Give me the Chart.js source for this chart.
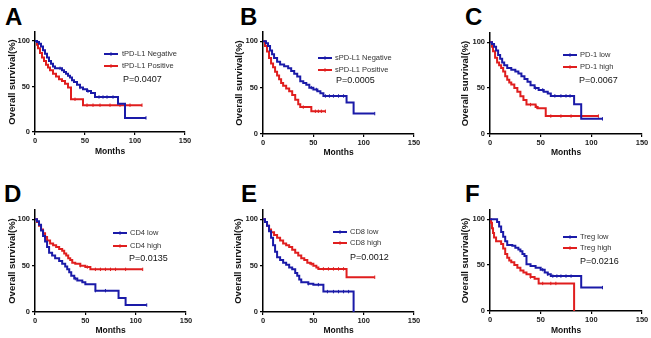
<!DOCTYPE html>
<html><head><meta charset="utf-8">
<script src="https://cdn.jsdelivr.net/npm/chart.js@4/dist/chart.umd.min.js"></script>
<style>
html,body{margin:0;padding:0;background:#fff;}
#wrap{position:relative;width:651px;height:338px;overflow:hidden;background:#fff;}
#wrap canvas{position:absolute;}
.lbl{position:absolute;font:bold 24px "Liberation Sans",Arial,sans-serif;line-height:24px;color:#000;}
</style></head><body><div id="wrap"></div>
<script>
// ---- tick labels ----
const xTicks = [0, 50, 100, 150];
const yTicks = [0, 50, 100];
const xTitle = 'Months';
const yTitle = 'Overall survival(%)';
const panelLetters = ['A', 'B', 'C', 'D', 'E', 'F'];
const blueLabels = ['tPD-L1 Negative', 'sPD-L1 Negative', 'PD-1 low', 'CD4 low', 'CD8 low', 'Treg low'];
const redLabels  = ['tPD-L1 Positive', 'sPD-L1 Positive', 'PD-1 high', 'CD4 high', 'CD8 high', 'Treg high'];
const pValues = ['P=0.0407', 'P=0.0005', 'P=0.0067', 'P=0.0135', 'P=0.0012', 'P=0.0216'];

// ---- Kaplan-Meier steps [month, survival %] ----
const tpdNeg = [[0,100],[2,99],[4,97],[6,94],[8,90],[10,86],[12,82],[14,78],[16,75],[18,72],[20,70],[27,68],[29,66],[31,64],[33,62],[35,60],[37,57],[39,55],[42,52],[45,49],[48,47],[52,45],[56,43],[60,38.5],[83,31],[90,15.5],[111,15.5]];
const tpdPos = [[0,100],[2,96],[3,92],[5,87],[7,82],[9,78],[11,74],[13,71],[15,68],[18,64],[21,61],[24,58],[27,56],[30,53],[33,49],[36,36],[48,29.5],[107,29.5]];
const spdNeg = [[0,100],[3,98],[5,95],[7,90],[9,86],[11,82],[14,78],[17,75],[21,73],[25,71],[28,68],[31,65],[34,62],[37,57],[40,55],[43,53],[46,50],[50,48],[54,46],[57,44],[60,41],[83,34],[90,22],[111,22]];
const spdPos = [[0,100],[2,95],[4,89],[6,82],[8,76],[10,72],[12,67],[14,63],[16,59],[18,55],[20,52],[23,49],[26,46],[29,42],[32,37],[35,32],[37,29],[48,24.5],[62,24.5]];
const pd1Low  = [[0,100],[2,98],[4,95],[6,91],[8,86],[10,82],[12,78],[14,75],[17,72],[21,70],[25,68],[28,66],[31,63],[34,60],[37,57],[40,53],[44,50],[48,48],[53,46],[57,44],[60,41.5],[83,32.5],[90,16.5],[111,16.5]];
const pd1High = [[0,100],[2,95],[3,90],[5,83],[7,78],[9,75],[11,72],[13,68],[15,63],[17,59],[19,56],[21,54],[24,50],[27,46],[30,41],[33,37],[36,32],[45,29.5],[47,28],[55,19.5],[107,19.5]];
const cd4Low  = [[0,100],[2,98],[4,94],[6,88],[8,82],[10,76],[12,70],[14,64],[17,61],[20,58],[24,55],[27,52],[30,49],[32,46],[34,43],[36,39],[39,36],[42,34],[47,32],[50,30],[60,23],[83,15],[90,7.5],[111,7.5]];
const cd4High = [[0,100],[2,97],[4,93],[6,89],[8,85],[10,81],[12,77],[15,74],[18,72],[21,70],[24,68],[27,66],[29,63],[31,61],[33,58],[35,56],[37,53],[40,52],[45,50],[50,48.5],[55,46],[107,46]];
const cd8Low  = [[0,100],[2,97],[4,93],[6,87],[8,80],[10,72],[12,65],[14,59],[17,56],[20,53],[23,51],[26,48],[29,46],[32,42],[34,39],[36,35],[38,32],[45,30.5],[50,29.5],[60,22],[90,0]];
const cd8High = [[0,100],[2,97],[4,93],[6,89],[8,86],[11,83],[14,80],[17,77],[20,74],[23,72],[26,70],[29,67],[32,64],[35,61],[38,58],[41,56],[44,53],[47,52],[50,50],[53,48],[55,46.5],[83,37.5],[111,37.5]];
const tregLow  = [[0,100],[6,100],[7,97],[9,92],[11,86],[13,81],[15,76],[17,72],[22,71],[25,69],[28,67],[30,65],[32,62],[34,60],[36,51],[40,49],[45,47],[50,45],[54,42],[57,40],[60,38],[90,25.5],[111,25.5]];
const tregHigh = [[0,100],[1,96],[2,90],[3,85],[4,80],[6,76],[11,73],[13,68],[15,62],[17,58],[19,55],[21,53],[24,50],[27,47],[30,44],[33,42],[36,40],[40,37],[44,35],[48,30],[83,0]];

// ---- censored times (months) ----
const tpdNegCens = [25,45,53,64,68,72,78,111];
const tpdPosCens = [40,52,58,65,75,85,95,107];
const spdNegCens = [48,53,62,66,70,75,80,111];
const spdPosCens = [40,52,55,58,62];
const pd1LowCens = [45,52,64,70,75,79,111];
const pd1HighCens = [40,46,60,70,80,90,107];
const cd4LowCens = [40,60,70,111];
const cd4HighCens = [45,52,60,65,70,75,80,90,107];
const cd8LowCens = [45,55,64,70,75,80,85];
const cd8HighCens = [48,60,65,70,75,80,111];
const tregLowCens = [52,57,62,66,70,75,80,111];
const tregHighCens = [40,52,60,65];

const BLUE = '#1a1aa8';
const RED = '#e01e1e';
const FAM = '"Liberation Sans", Arial, Helvetica, sans-serif';

const seriesBlue = [tpdNeg, spdNeg, pd1Low, cd4Low, cd8Low, tregLow];
const seriesRed = [tpdPos, spdPos, pd1High, cd4High, cd8High, tregHigh];
const censBlue = [tpdNegCens, spdNegCens, pd1LowCens, cd4LowCens, cd8LowCens, tregLowCens];
const censRed = [tpdPosCens, spdPosCens, pd1HighCens, cd4HighCens, cd8HighCens, tregHighCens];

// ---- layout (pixels) ----
const layouts = [
  {cell:[0,0,215,169],   area:{l:35,r:185,t:32,b:132},  yT:12,  mY:152, let:[5,5],    lx:104, tx:122, y1:54,  y2:66,  px:123, py:80},
  {cell:[215,0,215,169], area:{l:263,r:414,t:32,b:134}, yT:239, mY:153, let:[240,5],  lx:318, tx:335, y1:58,  y2:70,  px:336, py:81},
  {cell:[430,0,221,169], area:{l:490,r:642,t:33,b:134}, yT:465, mY:153, let:[465,5],  lx:563, tx:580, y1:55,  y2:67,  px:579, py:81},
  {cell:[0,169,215,169], area:{l:35,r:186,t:210,b:312}, yT:12,  mY:331, let:[4,182],  lx:113, tx:130, y1:233, y2:246, px:129, py:259},
  {cell:[215,169,215,169],area:{l:263,r:414,t:210,b:312},yT:238,mY:331, let:[241,182],lx:333, tx:350, y1:232, y2:243, px:350, py:258},
  {cell:[430,169,221,169],area:{l:490,r:642,t:210,b:311},yT:465,mY:331, let:[465,182],lx:563, tx:580, y1:237, y2:248, px:580, py:262}
];

function survAt(steps, t) {
  let s = steps[0][1];
  for (const [tt, v] of steps) { if (tt <= t) s = v; }
  return s;
}

const wrap = document.getElementById('wrap');

layouts.forEach((L, i) => {
  const [cx, cy, cw, ch] = L.cell;
  const yFont = 9.5, mFont = 8.5;
  const padLeft = L.yT - yFont * 1.2 / 2 - cx;
  const yw = L.area.l - cx - padLeft;
  const xh = L.mY + mFont * 1.2 / 2 - L.area.b;
  const padBottom = cy + ch - (L.mY + mFont * 1.2 / 2);
  const padTop = L.area.t - cy;
  const padRight = cx + cw - L.area.r;

  const letter = document.createElement('div');
  letter.className = 'lbl';
  letter.style.left = L.let[0] + 'px';
  letter.style.top = L.let[1] + 'px';
  letter.textContent = panelLetters[i];
  wrap.appendChild(letter);

  const cv = document.createElement('canvas');
  cv.width = cw; cv.height = ch;
  cv.style.left = cx + 'px'; cv.style.top = cy + 'px';
  cv.style.width = cw + 'px'; cv.style.height = ch + 'px';
  wrap.appendChild(cv);

  const mk = (steps, label, color) => ({
    type: 'line', label: label, isMain: true,
    data: steps.map(([x, y]) => ({x, y})),
    stepped: 'before', borderColor: color, backgroundColor: color,
    borderWidth: 2, pointRadius: 0, fill: false, tension: 0
  });
  const mkC = (steps, cens, color) => ({
    type: 'line', label: '', isMain: false,
    data: cens.map(t => ({x: t, y: survAt(steps, t)})),
    showLine: false, pointStyle: 'line', rotation: 90, pointRadius: 1.7,
    pointBorderColor: color, pointBorderWidth: 1, borderColor: color
  });

  const overlay = {
    id: 'overlay' + i,
    afterDraw(chart) {
      const ctx = chart.ctx;
      ctx.save();
      const rows = [L.y1, L.y2];
      chart.data.datasets.filter(d => d.isMain).forEach((d, k) => {
        const y = rows[k] - cy, x = L.lx - cx;
        ctx.strokeStyle = d.borderColor; ctx.lineWidth = 2;
        ctx.beginPath(); ctx.moveTo(x, y); ctx.lineTo(x + 14, y); ctx.stroke();
        ctx.lineWidth = 1;
        ctx.beginPath(); ctx.moveTo(x + 7, y - 1.8); ctx.lineTo(x + 7, y + 1.8); ctx.stroke();
        ctx.fillStyle = '#333';
        ctx.font = '7.5px ' + FAM;
        ctx.textBaseline = 'middle'; ctx.textAlign = 'left';
        ctx.fillText(d.label, L.tx - cx, y);
      });
      ctx.fillStyle = '#111';
      ctx.font = '9px ' + FAM;
      ctx.textBaseline = 'middle'; ctx.textAlign = 'left';
      ctx.fillText(pValues[i], L.px - cx, L.py - cy);
      ctx.restore();
    }
  };

  const tickFont = {family: FAM, size: 7.5, weight: 'bold'};
  new Chart(cv, {
    type: 'line',
    data: {
      datasets: [
        mk(seriesBlue[i], blueLabels[i], BLUE),
        mk(seriesRed[i], redLabels[i], RED),
        mkC(seriesBlue[i], censBlue[i], BLUE),
        mkC(seriesRed[i], censRed[i], RED)
      ]
    },
    options: {
      responsive: false, animation: false, devicePixelRatio: 1,
      layout: {padding: {left: padLeft, top: padTop, right: padRight, bottom: padBottom}},
      plugins: {legend: {display: false}, tooltip: {enabled: false}},
      scales: {
        x: {
          type: 'linear', min: 0, max: 150,
          afterBuildTicks: s => { s.ticks = xTicks.map(v => ({value: v})); },
          afterFit: s => { s.height = xh; },
          ticks: {font: tickFont, color: '#222', padding: 1, maxRotation: 0, autoSkip: false},
          grid: {drawOnChartArea: false, drawTicks: true, tickLength: 3, color: '#000', lineWidth: 1.2},
          border: {display: true, color: '#000', width: 1.5},
          title: {display: true, text: xTitle, color: '#111', padding: 0, font: {family: FAM, size: mFont, weight: 'bold'}}
        },
        y: {
          type: 'linear', min: 0, max: 110,
          afterBuildTicks: s => { s.ticks = yTicks.map(v => ({value: v})); },
          afterFit: s => { s.width = yw; },
          ticks: {font: tickFont, color: '#222', padding: 2, autoSkip: false},
          grid: {drawOnChartArea: false, drawTicks: true, tickLength: 3, color: '#000', lineWidth: 1.2},
          border: {display: true, color: '#000', width: 1.5},
          title: {display: true, text: yTitle, color: '#111', padding: 0, font: {family: FAM, size: yFont, weight: 'bold'}}
        }
      }
    },
    plugins: [overlay]
  });
});
</script>
</body></html>
